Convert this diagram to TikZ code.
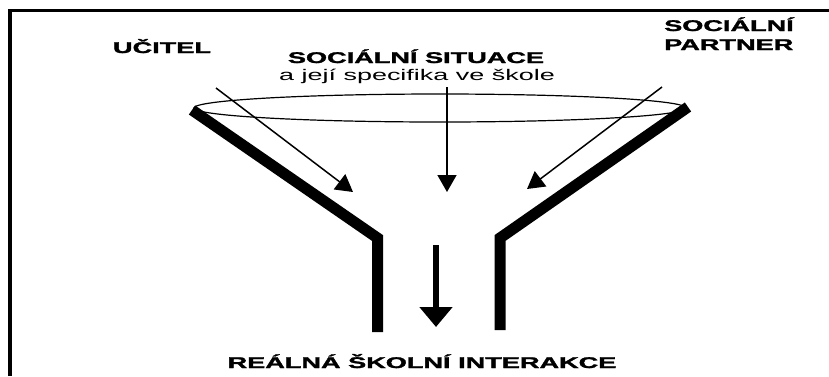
\documentclass[tikz,border=0pt]{standalone}
\usepackage{graphicx}
\usepackage{fontspec}
\setmainfont{Liberation Sans}[BoldFeatures={FakeBold=1.5}]
\newcommand{\widetext}[1]{\scalebox{1.75}[1]{#1}}
\usetikzlibrary{arrows.meta}
\begin{document}
\begin{tikzpicture}[x=1pt,y=-1pt,
  frame/.style={line width=3.3pt},
  funnel/.style={line width=11pt, line join=miter},
  rim/.style={line width=1.2pt},
  flow/.style={line width=1.5pt, -{Triangle[length=17pt,width=19pt]}},
  outflow/.style={line width=6pt, -{Triangle[length=20pt,width=32pt]}},
  lab/.style={inner sep=0pt, font=\fontsize{15.5}{18}\selectfont\bfseries},
  sublab/.style={inner sep=0pt, font=\fontsize{15.4}{18}\selectfont}]
\useasboundingbox (0,0) rectangle (829,376);
% frame
\draw[frame] (10,376) -- (10,10.5) -- (829,10.5);
% rim of the funnel
\draw[rim] (440,108) ellipse [x radius=246pt, y radius=14pt];
% funnel walls
\draw[funnel] (192,110) -- (377.5,238) -- (377.5,332);
\draw[funnel] (688,107) -- (500,238) -- (500,330);
% labels
\node[lab, anchor=base] (ucitel) at (162,53) {\widetext{UČITEL}};
\node[lab, anchor=base] (situace) at (416,63) {\widetext{SOCIÁLNÍ SITUACE}};
\node[sublab, anchor=base] (specifika) at (417,80) {\widetext{a její specifika ve škole}};
\node[lab, anchor=base west] (partner1) at (664,31) {\widetext{SOCIÁLNÍ}};
\node[lab, anchor=base west] (partner2) at (664,50) {\widetext{PARTNER}};
\node[lab, anchor=base] (realna) at (422,368) {\widetext{REÁLNÁ ŠKOLNÍ INTERAKCE}};
% arrows
\coordinate (a1s) at (216,88);
\coordinate (a1e) at (353,192);
\coordinate (a2s) at (447,87);
\coordinate (a2e) at (447,192);
\coordinate (a3s) at (662,87);
\coordinate (a3e) at (527,189);
\coordinate (a4s) at (436,245);
\coordinate (a4e) at (436,327);
\draw[flow] (a1s) -- (a1e);
\draw[flow] (a2s) -- (a2e);
\draw[flow] (a3s) -- (a3e);
\draw[outflow] (a4s) -- (a4e);
\end{tikzpicture}
\end{document}
